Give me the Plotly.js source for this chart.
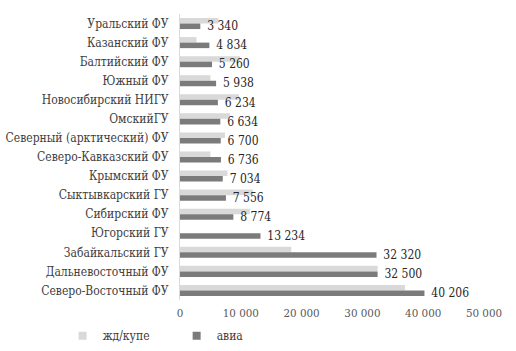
<!DOCTYPE html>
<html>
<head>
<meta charset="utf-8">
<script src="https://cdn.plot.ly/plotly-3.0.1.min.js"></script>
<style>html,body{margin:0;padding:0;background:#fff;}#chart{width:516px;height:351px;}</style>
</head>
<body>
<div id="chart"></div>
<script>
const categories = ["Уральский ФУ","Казанский ФУ","Балтийский ФУ","Южный ФУ","Новосибирский НИГУ","ОмскийГУ","Северный (арктический) ФУ","Северо-Кавказский ФУ","Крымский ФУ","Сыктывкарский ГУ","Сибирский ФУ","Югорский ГУ","Забайкальский ГУ","Дальневосточный ФУ","Северо-Восточный ФУ"];
const rail = [6300,2700,9900,5000,9700,8200,7400,5000,7800,12000,11500,0,18300,32500,37000];
const air = [3340,4834,5260,5938,6234,6634,6700,6736,7034,7556,8774,13234,32320,32500,40206];
const xTicks = [0,10000,20000,30000,40000,50000];
const seriesNames = ["жд/купе","авиа"];
const colors = ["#d9d9d9","#7b7b7b"];

const serif = "DejaVu Serif Condensed, DejaVu Serif";
const font = {family:serif, size:12, color:"#404040"};

const traces = [
  {type:"bar", orientation:"h", name:seriesNames[0], y:categories, x:rail, marker:{color:colors[0]}, showlegend:false, hoverinfo:"x+y"},
  {type:"bar", orientation:"h", name:seriesNames[1], y:categories, x:air, marker:{color:colors[1]}, showlegend:false,
   texttemplate:"\u00a0\u00a0%{x:,d}", textposition:"outside", cliponaxis:false, constraintext:"none",
   textfont:{family:serif, size:12, color:"#262626"}, hoverinfo:"x+y"},
  {type:"scatter", mode:"markers", name:seriesNames[0], x:[null], y:[null], marker:{symbol:"square", size:8, color:colors[0]}, showlegend:true},
  {type:"scatter", mode:"markers", name:seriesNames[1], x:[null], y:[null], marker:{symbol:"square", size:8, color:colors[1]}, showlegend:true}
];

const layout = {
  width:516, height:351,
  margin:{l:180, r:32, t:14, b:51, pad:0, autoexpand:false},
  paper_bgcolor:"#fff", plot_bgcolor:"#fff",
  separators:", ",
  barmode:"group", bargap:0.42, bargroupgap:0,
  font:font,
  xaxis:{range:[0,50000], tickvals:xTicks, tickformat:",d", showgrid:false, zeroline:false, showline:false, ticks:"",
         ticklabelstandoff:4, automargin:false, tickfont:{family:serif, size:11.5, color:"#595959"}, fixedrange:true},
  yaxis:{type:"category", categoryorder:"array", categoryarray:categories, autorange:"reversed",
         showgrid:false, zeroline:false, showline:true, linecolor:"#d9d9d9", linewidth:1, ticks:"", automargin:false,
         ticklabelstandoff:8, tickfont:{family:serif, size:12, color:"#404040"}, fixedrange:true},
  legend:{orientation:"h", x:-0.386, xanchor:"left", y:-0.125, yanchor:"middle",
          font:{family:serif, size:12, color:"#404040"}, itemwidth:30, entrywidth:69, entrywidthmode:"pixels", traceorder:"normal"},
  showlegend:true
};

Plotly.newPlot("chart", traces, layout, {displayModeBar:false, staticPlot:true});
</script>
</body>
</html>
